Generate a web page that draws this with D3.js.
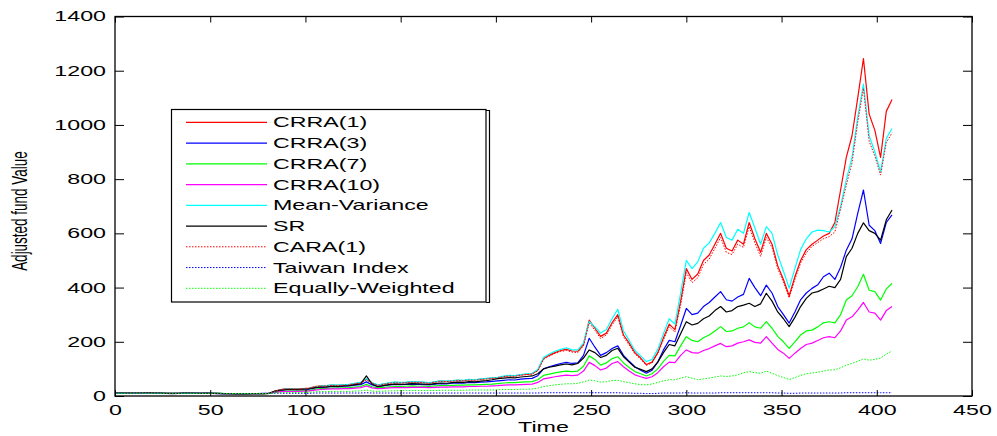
<!DOCTYPE html>
<html>
<head>
<meta charset="utf-8">
<script src="https://cdn.jsdelivr.net/npm/d3@7"></script>
<style>
  body { margin: 0; background: #fff; }
</style>
</head>
<body>
<script>
// sample grid: one reading every 3 time units, 0..408
const STEP = 3;
const time = d3.range(0, 409, STEP);

const xTicks = [0, 50, 100, 150, 200, 250, 300, 350, 400, 450];
const yTicks = [0, 200, 400, 600, 800, 1000, 1200, 1400];

const seriesNames = ["CRRA(1)", "CRRA(3)", "CRRA(7)", "CRRA(10)", "Mean-Variance", "SR", "CARA(1)", "Taiwan Index", "Equally-Weighted"];

const crra1 = [10,10,11,11,11,12,11,11,10,10,9,10,10,11,10,10,11,10,9,9,8,8,8,8,8,9,9,10,
  18,24,27,27,26,27,29,35,37,38, 40,39,41,42,46,49,62,48,40,44, 48,50,49,50,52,51,50,48,52,55,
  54,56,58,57,60,59,62,64,66,68, 72,75,74,78,80,82,95,138,150,160, 168,172,166,165,190,280,250,220,232,270,
  300,225,195,160,140,116,125,160,215,265, 245,350,470,430,450,500,520,560,600,545,
  535,575,560,640,580,530,600,560,480,430, 370,440,500,540,560,575,590,600,640,760,
  880,960,1100,1245,1040,980,880,1050,1094];

const crra3 = [11,11,11,12,11,12,11,11,11,10,10,10,11,11,10,11,11,10,10,9,9,9,8,9,9,9,10,10,
  16,20,23,23,22,23,25,30,32,33, 35,34,36,37,40,42,52,41,35,38, 41,43,42,43,44,43,42,41,44,46,
  45,47,48,47,50,49,51,52,54,56, 58,60,59,62,64,65,75,100,108,114, 120,124,120,122,150,213,180,150,160,175,
  185,150,128,108,95,84,95,125,170,205, 200,260,323,300,306,330,345,365,385,355,
  350,365,375,434,400,370,409,380,330,300, 269,310,355,380,397,410,440,453,430,475,
  538,580,674,760,630,610,563,640,668];

const crra7 = [10,10,11,11,11,11,11,10,10,10,10,10,10,11,10,10,10,10,10,9,9,9,9,9,9,9,9,10,
  14,17,19,19,19,20,21,25,27,28, 29,29,30,31,33,35,43,34,30,32, 34,35,35,36,37,36,36,35,37,38,
  38,39,40,40,41,41,42,43,44,46, 48,49,49,51,52,53,60,76,81,85, 89,92,90,92,110,148,135,114,122,138,
  145,122,105,90,82,74,82,100,128,150, 148,185,219,205,200,215,225,240,256,238,
  240,250,255,270,255,250,274,250,220,200, 176,200,225,240,243,255,270,274,270,300,
  354,370,403,449,390,385,354,395,415];

const crra10 = [10,10,10,11,10,11,10,10,10,10,10,10,10,10,10,10,10,10,9,9,9,9,9,9,9,9,9,10,
  13,16,17,17,17,18,19,22,24,25, 26,26,27,27,29,31,37,30,27,28, 30,31,31,31,32,32,32,31,32,33,
  33,34,34,34,35,35,36,36,37,38, 40,41,41,42,43,44,50,63,67,71, 74,77,75,77,92,124,112,96,103,120,
  127,108,92,78,71,65,71,86,108,125, 123,150,170,160,158,168,175,185,194,182,
  185,195,200,207,198,195,219,195,172,158, 139,158,175,190,195,205,215,219,215,240,
  280,292,317,345,310,306,280,315,330];

const meanVar = [10,10,11,11,11,12,11,11,10,10,9,10,10,11,10,10,11,10,9,9,8,8,8,8,8,9,9,10,
  17,23,26,26,25,26,28,34,37,38, 41,40,42,43,47,50,64,49,41,45, 49,51,50,51,53,52,51,49,53,56,
  55,57,59,58,61,60,63,65,67,69, 73,76,75,79,82,84,98,142,155,165, 172,178,170,170,195,275,255,232,245,285,
  320,240,205,168,148,127,135,172,230,285, 265,380,500,470,495,545,565,600,640,585,
  575,615,600,677,620,560,625,600,520,460, 398,470,540,580,605,612,610,605,625,700,
  797,880,1030,1151,960,900,827,950,987];

const sr = [11,11,11,11,11,12,12,11,11,10,10,10,11,11,11,10,11,10,10,9,9,8,8,8,9,9,9,10,
  18,22,24,24,24,25,27,31,33,34, 36,35,37,38,42,45,74,44,34,38, 42,44,43,44,46,45,44,43,46,48,
  47,49,51,50,53,52,55,57,60,64, 66,68,67,70,72,74,82,100,106,110, 115,118,115,120,140,170,160,142,150,168,
  176,145,125,106,98,90,100,125,160,190, 185,230,274,262,268,285,295,315,330,310,
  315,330,335,342,330,340,379,350,310,285, 256,290,330,360,380,385,395,405,400,430,
  514,545,600,639,610,600,575,650,686];

const cara1 = [10,10,11,11,11,12,11,11,10,10,9,10,10,11,10,10,11,10,9,9,8,8,8,8,8,9,9,10,
  17,23,26,26,25,26,28,34,36,37, 39,38,40,41,45,48,60,47,39,43, 47,49,48,49,51,50,49,47,51,54,
  53,55,57,56,59,58,61,63,65,67, 71,74,73,77,79,81,93,135,147,157, 164,168,162,160,185,270,242,212,225,262,
  292,218,188,155,136,113,122,156,208,255, 236,335,455,418,436,485,505,545,585,530,
  522,560,548,625,565,515,585,548,470,420, 362,430,490,528,552,566,580,588,605,690,
  778,860,1010,1135,940,885,815,935,971];

const taiwan = [10,10,10,10,10,10,10,10,9,9,9,9,10,10,10,10,10,10,9,9,9,9,9,9,9,9,9,10,
  10,10,10,10,10,10,10,11,11,11, 11,11,11,11,11,11,12,11,11,11, 11,11,11,11,11,11,11,11,11,11,
  11,11,11,11,11,11,11,11,11,11, 11,11,11,11,11,11,11,12,12,12, 12,12,12,12,12,12,12,12,12,12,
  12,11,11,10,10,9,9,10,11,11, 11,11,12,11,11,11,11,11,12,12,
  12,12,12,12,12,12,12,12,11,11, 10,10,11,11,11,11,11,11,11,11,
  12,12,12,12,12,12,12,12,12];

const equalW = [10,10,10,10,10,11,10,10,10,10,10,10,10,10,10,10,10,10,10,10,9,9,9,9,9,9,9,10,
  11,12,13,13,13,13,14,15,16,16, 17,17,17,17,18,19,22,18,17,18, 19,19,20,20,20,20,20,20,20,21,
  21,21,21,21,22,22,22,22,22,23, 24,24,24,25,25,26,29,35,38,41, 43,45,45,47,52,59,56,51,53,57,
  58,53,49,45,42,41,44,50,56,60, 60,66,71,66,60,63,66,70,74,72,
  74,78,86,90,86,84,92,84,75,68, 61,68,76,82,85,88,92,96,97,104,
  114,120,128,137,132,135,140,155,166];

const seriesValues = [crra1, crra3, crra7, crra10, meanVar, sr, cara1, taiwan, equalW];
const seriesColors = ["#ff0000", "#0000ff", "#00ff00", "#ff00ff", "#00ffff", "#000000", "#ff0000", "#0000ff", "#00ff00"];
const seriesDotted = [false, false, false, false, false, false, true, true, true];

const W = 997, H = 436;
const SX = 1.66; // the picture is stretched sideways, text too
const FONT = "'Liberation Sans', Arial, Helvetica, sans-serif";
const plotLeft = 115, plotRight = 972, plotTop = 16.5, plotBottom = 396;

const svg = d3.select("body").append("svg")
  .attr("width", W)
  .attr("height", H);

const x = d3.scaleLinear().domain([0, 450]).range([plotLeft, plotRight]);
const y = d3.scaleLinear().domain([0, 1400]).range([plotBottom, plotTop]);

// lines
const line = d3.line()
  .x((d, i) => x(time[i]))
  .y(d => y(d));

const linesG = svg.append("g");
seriesValues.forEach((vals, s) => {
  linesG.append("path")
    .datum(vals)
    .attr("d", line)
    .attr("fill", "none")
    .attr("stroke", seriesColors[s])
    .attr("stroke-width", seriesDotted[s] ? 1 : 1.2)
    .attr("stroke-dasharray", seriesDotted[s] ? "1.5,1.5" : null)
    .attr("stroke-linejoin", "round");
});

// axes, MATLAB style ticks pointing inward on all four sides
function styleAxis(g) {
  g.select(".domain").remove();
  g.selectAll(".tick line").attr("stroke", "#000");
  g.attr("font-size", 14).attr("font-family", FONT);
  g.selectAll(".tick text").attr("fill", "#000");
}

svg.append("g")
  .attr("transform", `translate(0,${plotBottom})`)
  .call(d3.axisBottom(x).tickValues(xTicks).tickFormat(d3.format("d"))
    .tickSizeInner(-6).tickSizeOuter(0).tickPadding(9))
  .call(styleAxis)
  .selectAll(".tick text").attr("transform", `scale(${SX},1)`);

svg.append("g")
  .attr("transform", `translate(0,${plotTop})`)
  .call(d3.axisTop(x).tickValues(xTicks).tickSizeInner(-6).tickSizeOuter(0).tickFormat(""))
  .call(styleAxis);

svg.append("g")
  .attr("transform", `translate(${plotLeft},0)`)
  .call(d3.axisLeft(y).tickValues(yTicks).tickFormat(d3.format("d"))
    .tickSizeInner(-9).tickSizeOuter(0).tickPadding(9 / SX))
  .call(styleAxis)
  .selectAll(".tick text").attr("transform", `scale(${SX},1)`);

svg.append("g")
  .attr("transform", `translate(${plotRight},0)`)
  .call(d3.axisRight(y).tickValues(yTicks).tickSizeInner(-9).tickSizeOuter(0).tickFormat(""))
  .call(styleAxis);

svg.append("rect")
  .attr("x", plotLeft).attr("y", plotTop)
  .attr("width", plotRight - plotLeft).attr("height", plotBottom - plotTop)
  .attr("fill", "none").attr("stroke", "#000").attr("stroke-width", 1.3);

// axis titles
svg.append("text")
  .attr("transform", `translate(${(plotLeft + plotRight) / 2},432) scale(${SX},1)`)
  .attr("text-anchor", "middle")
  .attr("font-family", FONT).attr("font-size", 14)
  .text("Time");

svg.append("text")
  .attr("transform", `translate(27,211) scale(${SX},1) rotate(-90)`)
  .attr("text-anchor", "middle")
  .attr("font-family", FONT).attr("font-size", 13.5)
  .text("Adjusted fund Value");

// legend
const lg = svg.append("g");
lg.append("rect")
  .attr("x", 171.5).attr("y", 109.5).attr("width", 314.5).attr("height", 192.5)
  .attr("fill", "#fff").attr("stroke", "#000").attr("stroke-width", 1.2);
lg.append("path")
  .attr("d", "M486,110.5H489.5V302.5H486")
  .attr("fill", "none").attr("stroke", "#000").attr("stroke-width", 1.2);

seriesNames.forEach((name, s) => {
  const cy = 122.3 + s * 20.75;
  lg.append("line")
    .attr("x1", 186).attr("x2", 267).attr("y1", cy).attr("y2", cy)
    .attr("stroke", seriesColors[s])
    .attr("stroke-width", seriesDotted[s] ? 1 : 1.2)
    .attr("stroke-dasharray", seriesDotted[s] ? "1.5,1.5" : null);
  lg.append("text")
    .attr("transform", `translate(273,${cy + 5}) scale(${SX},1)`)
    .attr("font-family", FONT).attr("font-size", 14)
    .text(name);
});
</script>
</body>
</html>
